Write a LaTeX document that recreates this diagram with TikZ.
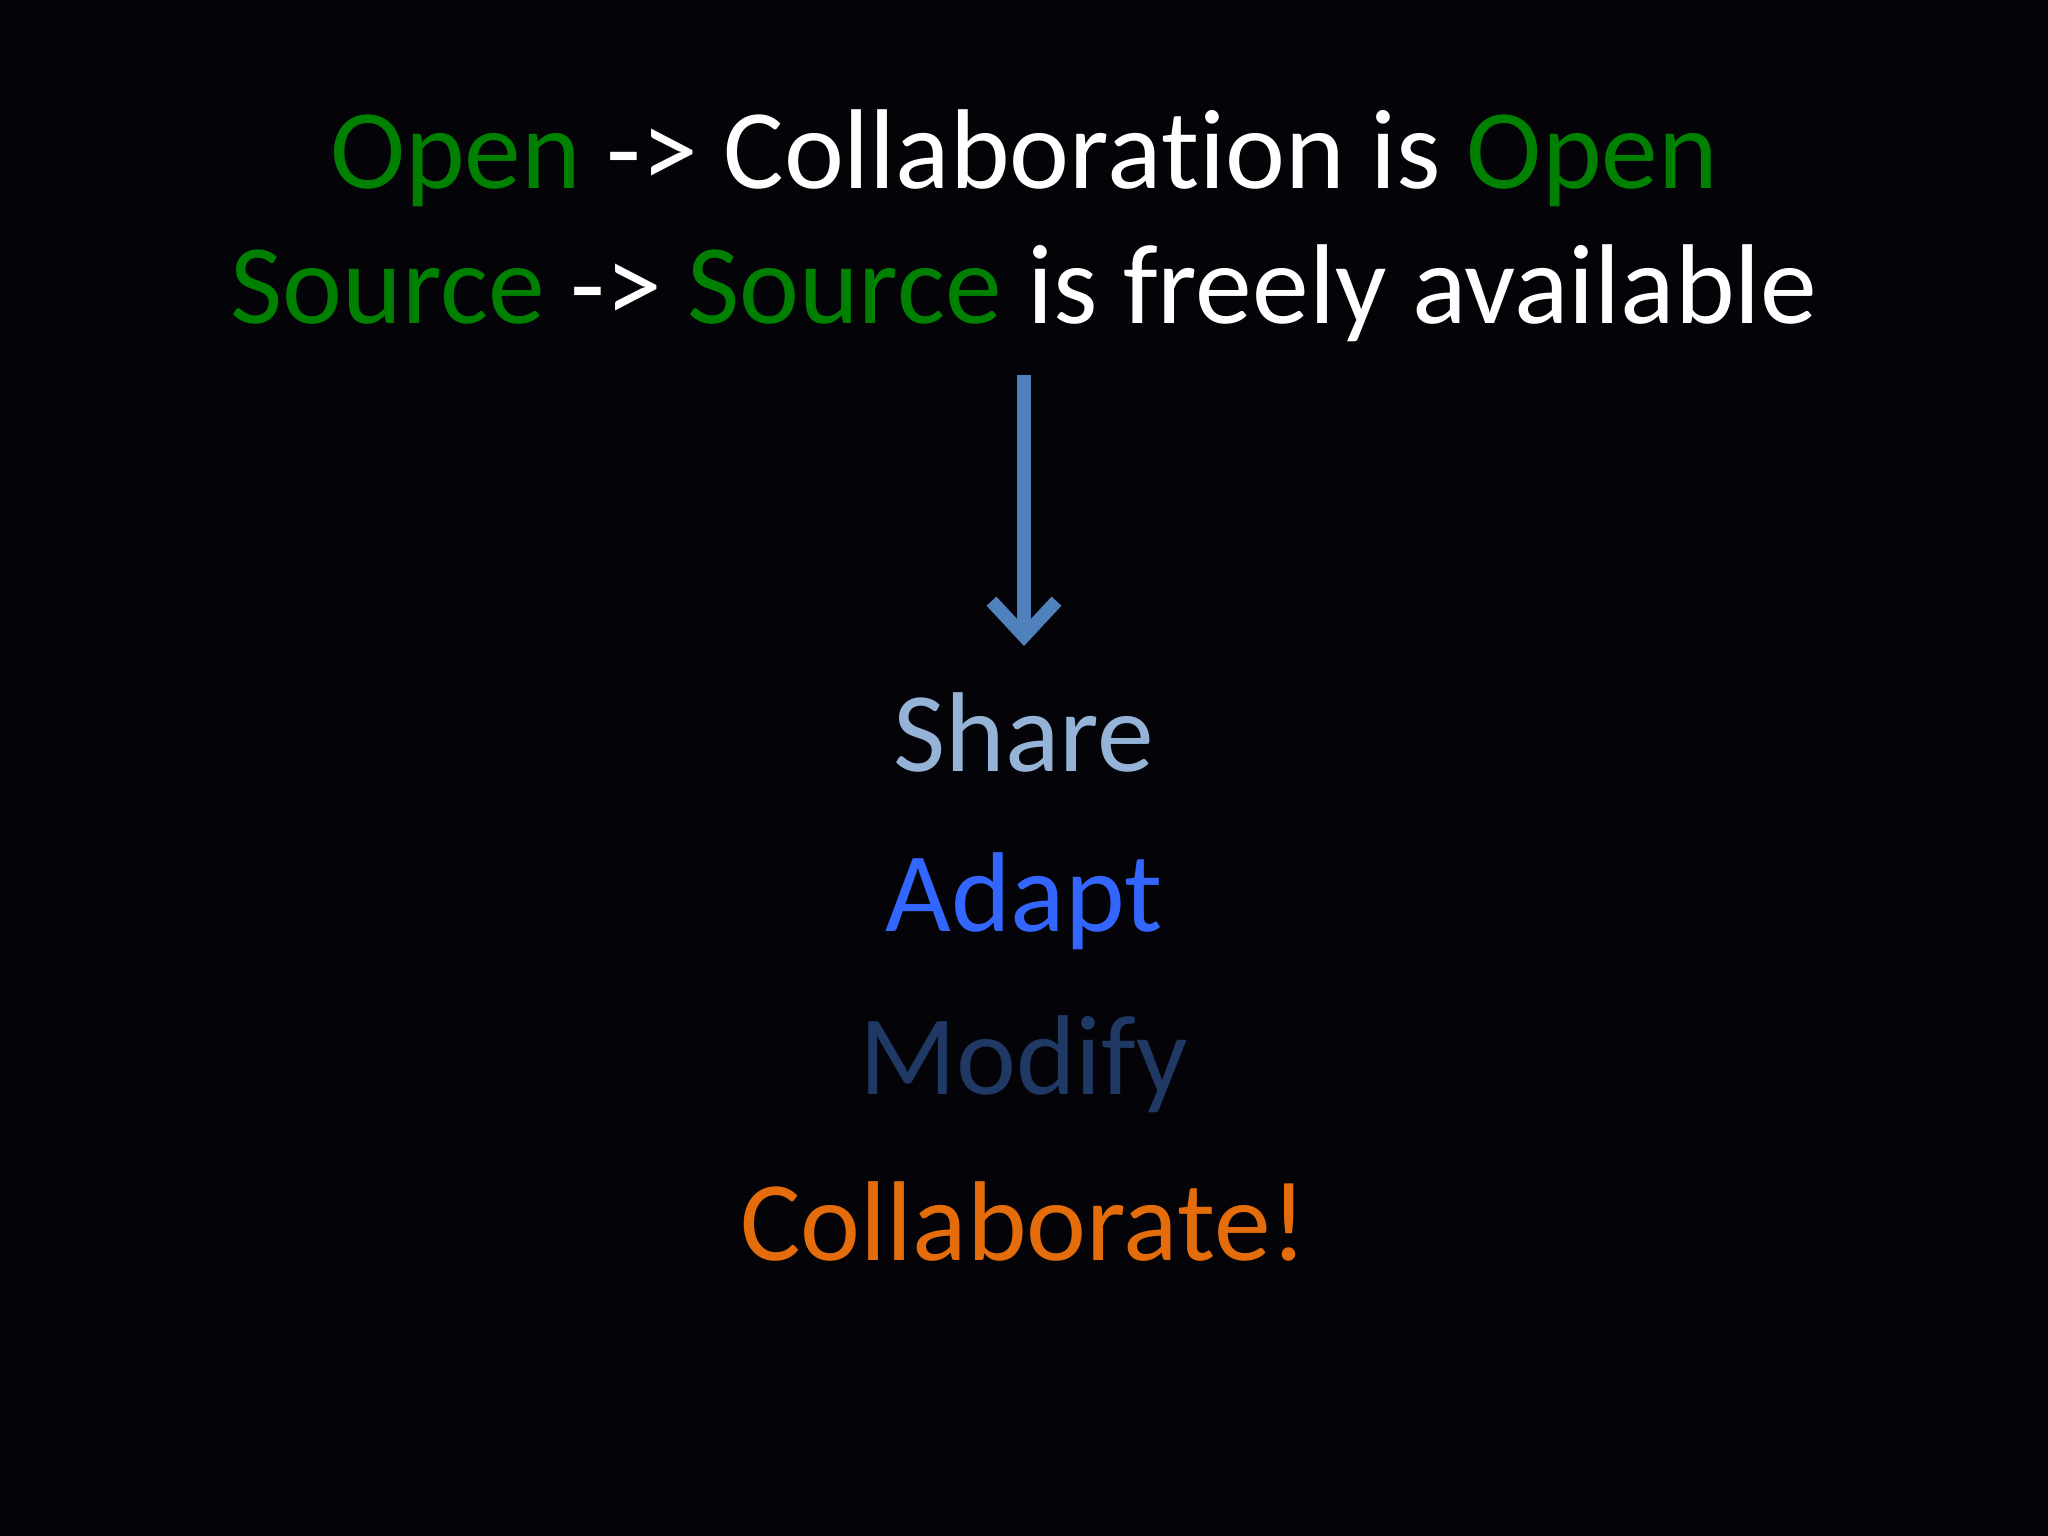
\documentclass[tikz,border=0pt]{standalone}
\usepackage{fontspec}
\setmainfont{Carlito}[Contextuals=NoAlternate,Ligatures={NoCommon}]
\usetikzlibrary{arrows.meta}
\definecolor{bg}{RGB}{4,4,8}
\definecolor{gr}{RGB}{0,128,0}
\definecolor{arr}{RGB}{79,129,189}
\definecolor{sh}{RGB}{149,179,215}
\definecolor{ad}{RGB}{51,102,255}
\definecolor{mo}{RGB}{31,56,100}
\definecolor{co}{RGB}{228,108,10}
\tikzset{txt/.style={anchor=base,inner sep=0pt,font=\fontsize{32.3}{38}\selectfont}}
\begin{document}
\begin{tikzpicture}
\fill[bg] (0,0) rectangle (20.48,-15.36);
\useasboundingbox (0,0) rectangle (20.48,-15.36);
\node[txt,text=white] (l1) at (10.24,-1.89) {\textcolor{gr}{Open} -> Collabora\kern0ptt\kern0pt ion is \textcolor{gr}{Open}};
\node[txt,text=white] (l2) at (10.24,-3.24) {\textcolor{gr}{Source} -> \textcolor{gr}{Source} is freely available};
\coordinate (a1) at (10.24,-3.75);
\coordinate (a2) at (10.24,-6.46);
\draw[arr,line width=3.8pt,line cap=butt,-{Straight Barb[length=3.5mm,width=6.5mm,line width=3.8pt]}] (a1) -- (a2);
\node[txt,text=sh] (s) at (10.24,-7.71) {Share};
\node[txt,text=ad] (a) at (10.24,-9.31) {Adapt};
\node[txt,text=mo] (m) at (10.24,-10.94) {Modify};
\node[txt,text=co] (c) at (10.24,-12.60) {Collaborate!};
\end{tikzpicture}
\end{document}
